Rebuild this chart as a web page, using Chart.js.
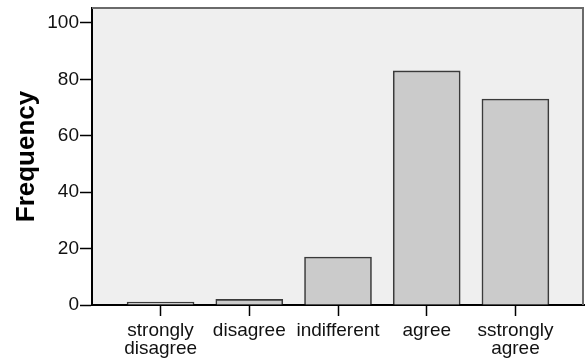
<!DOCTYPE html>
<html>
<head>
<meta charset="utf-8">
<script src="https://cdn.jsdelivr.net/npm/chart.js@4"></script>
<style>
html,body{margin:0;padding:0;background:#fff;}
#wrap{width:585px;height:358px;}
</style>
</head>
<body>
<div id="wrap"><canvas id="c" width="585" height="358"></canvas></div>
<script>
const categories = [["strongly","disagree"], "disagree", "indifferent", "agree", ["sstrongly","agree"]];
const frequencies = [1, 2, 17, 83, 73];
const yTicks = [0, 20, 40, 60, 80, 100];
const yAxisTitle = "Frequency";

const points = frequencies.map((v, i) => ({x: i, y: v}));

const plotBg = {
  id: 'plotBg',
  beforeDraw(chart) {
    const {ctx, chartArea: a} = chart;
    ctx.save();
    ctx.fillStyle = '#efefef';
    ctx.fillRect(a.left, a.top, a.right - a.left, a.bottom - a.top);
    ctx.restore();
  },
  afterDatasetsDraw(chart) {
    const {ctx, chartArea: a} = chart;
    ctx.save();
    ctx.strokeStyle = '#6a6a6a';
    ctx.lineWidth = 2;
    ctx.beginPath();
    ctx.moveTo(a.left, a.top);
    ctx.lineTo(a.right - 1, a.top);
    ctx.lineTo(a.right - 1, a.bottom);
    ctx.stroke();
    ctx.restore();
  }
};

function noPad(scale) {
  scale.paddingTop = 0; scale.paddingBottom = 0;
  scale.paddingLeft = 0; scale.paddingRight = 0;
}

new Chart(document.getElementById('c'), {
  type: 'bar',
  data: {
    datasets: [{
      data: points,
      backgroundColor: '#cbcbcb',
      borderColor: '#3a3a3a',
      borderWidth: 1.6,
      barThickness: 67,
      borderSkipped: 'bottom'
    }]
  },
  options: {
    responsive: false,
    animation: false,
    devicePixelRatio: 1,
    layout: {padding: {top: 8, right: 1, left: 0, bottom: 0}},
    plugins: {legend: {display: false}, tooltip: {enabled: false}},
    scales: {
      x: {
        type: 'linear',
        offset: false,
        min: -0.773,
        max: 4.773,
        afterBuildTicks(scale) { scale.ticks = categories.map((c, i) => ({value: i})); },
        afterFit(scale) { scale.height = 53; noPad(scale); },
        ticks: {
          autoSkip: false,
          maxRotation: 0,
          padding: 6,
          color: '#111',
          font: {family: 'Liberation Sans, Arial, sans-serif', size: 19, lineHeight: 0.93},
          callback(v) { return categories[v]; }
        },
        grid: {
          offset: false, drawOnChartArea: false, drawTicks: true, tickLength: 11, tickWidth: 1.5,
          tickColor: (ctx) => (ctx.tick && Number.isInteger(ctx.tick.value) && ctx.tick.value >= 0 && ctx.tick.value < categories.length) ? '#000' : 'rgba(0,0,0,0)'
        },
        border: {display: true, color: '#000', width: 2}
      },
      y: {
        min: 0,
        max: 105.3,
        afterBuildTicks(scale) { scale.ticks = yTicks.map(v => ({value: v})); },
        afterFit(scale) { scale.width = 92; noPad(scale); },
        ticks: {
          padding: 1,
          color: '#111',
          font: {family: 'Liberation Sans, Arial, sans-serif', size: 19}
        },
        grid: {drawOnChartArea: false, drawTicks: true, tickLength: 12, tickColor: '#000', tickWidth: 1.5},
        border: {display: true, color: '#000', width: 2},
        title: {
          display: true,
          text: yAxisTitle,
          color: '#000',
          padding: {top: 11, bottom: 0},
          font: {family: 'Liberation Sans, Arial, sans-serif', size: 26, weight: 'bold'}
        }
      }
    }
  },
  plugins: [plotBg]
});
</script>
</body>
</html>
